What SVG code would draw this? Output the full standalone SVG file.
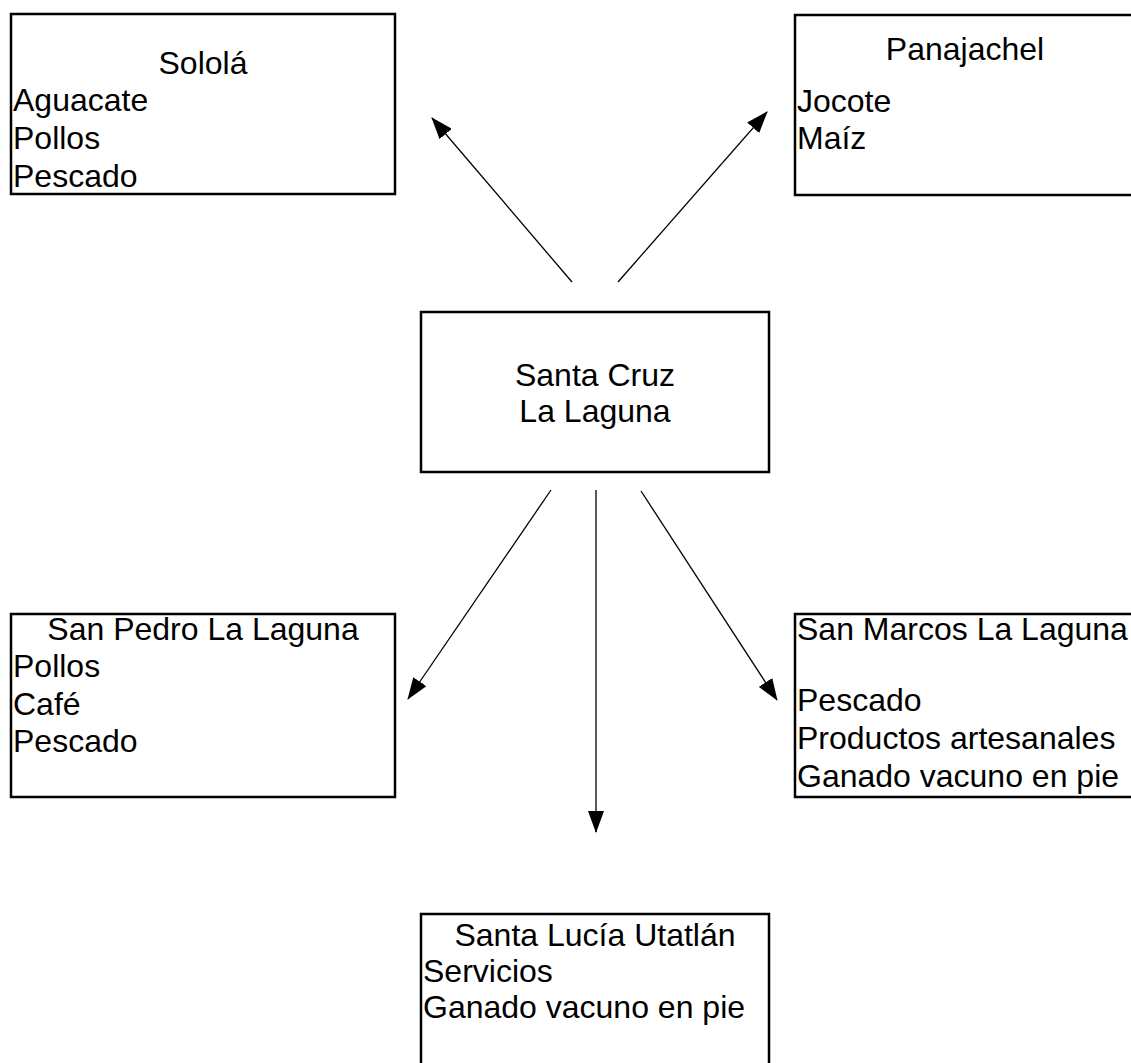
<svg xmlns="http://www.w3.org/2000/svg" width="1131" height="1063" viewBox="0 0 1131 1063">
  <style>
    .box { fill: #ffffff; stroke: #000000; stroke-width: 2.5; }
    .txt { font-family: "Liberation Sans", Arial, sans-serif; font-size: 32px; fill: #000000; }
    .mid { text-anchor: middle; }
    .link { stroke: #000000; stroke-width: 1.3; fill: none; marker-end: url(#head); }
  </style>
  <defs>
    <marker id="head" markerUnits="userSpaceOnUse" markerWidth="22" markerHeight="16" viewBox="0 0 22 16" refX="21" refY="8" orient="auto">
      <path d="M0,0 L22,8 L0,16 z" fill="#000000"/>
    </marker>
  </defs>
  <rect width="1131" height="1063" fill="#ffffff"/>

  <g id="connectors">
    <line class="link" x1="572" y1="282" x2="432" y2="118"/>
    <line class="link" x1="618" y1="282" x2="767" y2="112"/>
    <line class="link" x1="551" y1="490" x2="408" y2="699"/>
    <line class="link" x1="596" y1="490" x2="596" y2="832"/>
    <line class="link" x1="641" y1="491" x2="777" y2="700"/>
  </g>

  <g id="solola">
    <rect class="box" x="11" y="14" width="384" height="180"/>
    <text class="txt mid" x="203" y="74">Sololá</text>
    <text class="txt" x="13" y="111">Aguacate</text>
    <text class="txt" x="13" y="149">Pollos</text>
    <text class="txt" x="13" y="187">Pescado</text>
  </g>

  <g id="panajachel">
    <rect class="box" x="795" y="15" width="400" height="180"/>
    <text class="txt mid" x="965" y="60">Panajachel</text>
    <text class="txt" x="797" y="112">Jocote</text>
    <text class="txt" x="797" y="149">Maíz</text>
  </g>

  <g id="santa-cruz">
    <rect class="box" x="421" y="312" width="348" height="160"/>
    <text class="txt mid" x="595" y="386">Santa Cruz</text>
    <text class="txt mid" x="595" y="422">La Laguna</text>
  </g>

  <g id="san-pedro">
    <rect class="box" x="11" y="614" width="384" height="183"/>
    <text class="txt mid" x="203" y="640">San Pedro La Laguna</text>
    <text class="txt" x="13" y="677">Pollos</text>
    <text class="txt" x="13" y="715">Café</text>
    <text class="txt" x="13" y="752">Pescado</text>
  </g>

  <g id="san-marcos">
    <rect class="box" x="795" y="614" width="400" height="183"/>
    <text class="txt" x="797" y="640">San Marcos La Laguna</text>
    <text class="txt" x="797" y="711">Pescado</text>
    <text class="txt" x="797" y="749">Productos artesanales</text>
    <text class="txt" x="797" y="787">Ganado vacuno en pie</text>
  </g>

  <g id="santa-lucia">
    <rect class="box" x="421" y="914" width="348" height="200"/>
    <text class="txt mid" x="595" y="946">Santa Lucía Utatlán</text>
    <text class="txt" x="423" y="982">Servicios</text>
    <text class="txt" x="423" y="1018">Ganado vacuno en pie</text>
  </g>
</svg>
